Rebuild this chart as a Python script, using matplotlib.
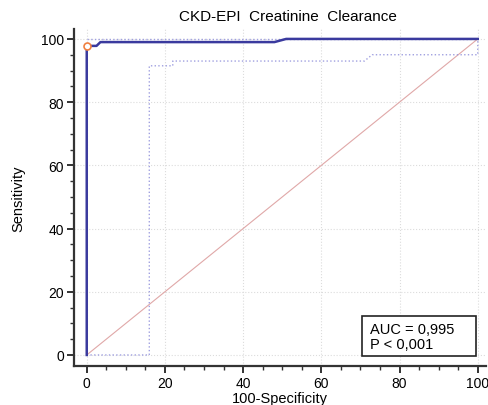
import matplotlib
matplotlib.use("Agg")
import matplotlib.pyplot as plt
from matplotlib.ticker import MultipleLocator
from matplotlib.patches import Rectangle

plt.rcParams['font.family'] = ['Liberation Sans', 'DejaVu Sans']

# ROC curve (100-Specificity, Sensitivity)
roc_x = [0, 0, 2.5, 3.5, 48, 51, 100]
roc_y = [0, 97.8, 97.8, 99.0, 99.0, 100, 100]
# lower confidence bound
lo_x = [0, 16, 16, 22, 22, 71, 73, 100, 100]
lo_y = [0, 0, 91.5, 91.5, 93.0, 93.0, 95.0, 95.0, 100]
# upper confidence bound
hi_x = [0, 100]
hi_y = [100, 100]
# optimal criterion point
pt_x = [0]
pt_y = [97.8]
diag = [0, 100]

fig = plt.figure(figsize=(4.89, 4.06), dpi=100)
ax = fig.add_axes([0.151, 0.096, 0.842, 0.829])
ax.set_xlim(-3.3, 102)
ax.set_ylim(-3.5, 103)

for v in range(0, 101, 20):
    ax.axvline(v, color="#dcdcdc", lw=0.8, ls=":", zorder=0)
    ax.axhline(v, color="#dcdcdc", lw=0.8, ls=":", zorder=0)

ax.plot(diag, diag, color="#e0a8a8", lw=0.8, zorder=1)
ax.plot(hi_x, hi_y, color="#a0a0e0", lw=1.0, ls=":", zorder=2)
ax.plot(lo_x, lo_y, color="#a0a0e0", lw=1.0, ls=":", zorder=2)
ax.plot(roc_x, roc_y, color="#3a3a9e", lw=1.8, zorder=3)
ax.plot(pt_x, pt_y, "o", mfc="white", mec="#f08040", ms=5, mew=1.2, zorder=4)

for s in ["top", "right"]:
    ax.spines[s].set_visible(False)
for s in ["left", "bottom"]:
    ax.spines[s].set_linewidth(1.6)
    ax.spines[s].set_color("#333333")

ax.xaxis.set_major_locator(MultipleLocator(20))
ax.xaxis.set_minor_locator(MultipleLocator(5))
ax.yaxis.set_major_locator(MultipleLocator(20))
ax.yaxis.set_minor_locator(MultipleLocator(5))
ax.tick_params(which="major", length=5, width=1.4, color="#333333", labelsize=10, pad=2)
ax.tick_params(which="minor", length=3, width=1.0, color="#333333")

ax.set_title("CKD-EPI  Creatinine  Clearance", fontsize=11, pad=7, x=0.52)
ax.set_xlabel("100-Specificity", fontsize=10.5, labelpad=1)
ax.set_ylabel("Sensitivity", fontsize=10.5, labelpad=11, fontstretch="condensed")

ax.add_patch(Rectangle((70.5, -0.3), 29.0, 12.5, fc="white", ec="#222222",
                       lw=1.2, zorder=5))
ax.text(72.5, 5.9, "AUC = 0,995\nP < 0,001", fontsize=10.5, va="center", ha="left",
        linespacing=1.05, zorder=6)

fig.savefig("out.png", dpi=100)
